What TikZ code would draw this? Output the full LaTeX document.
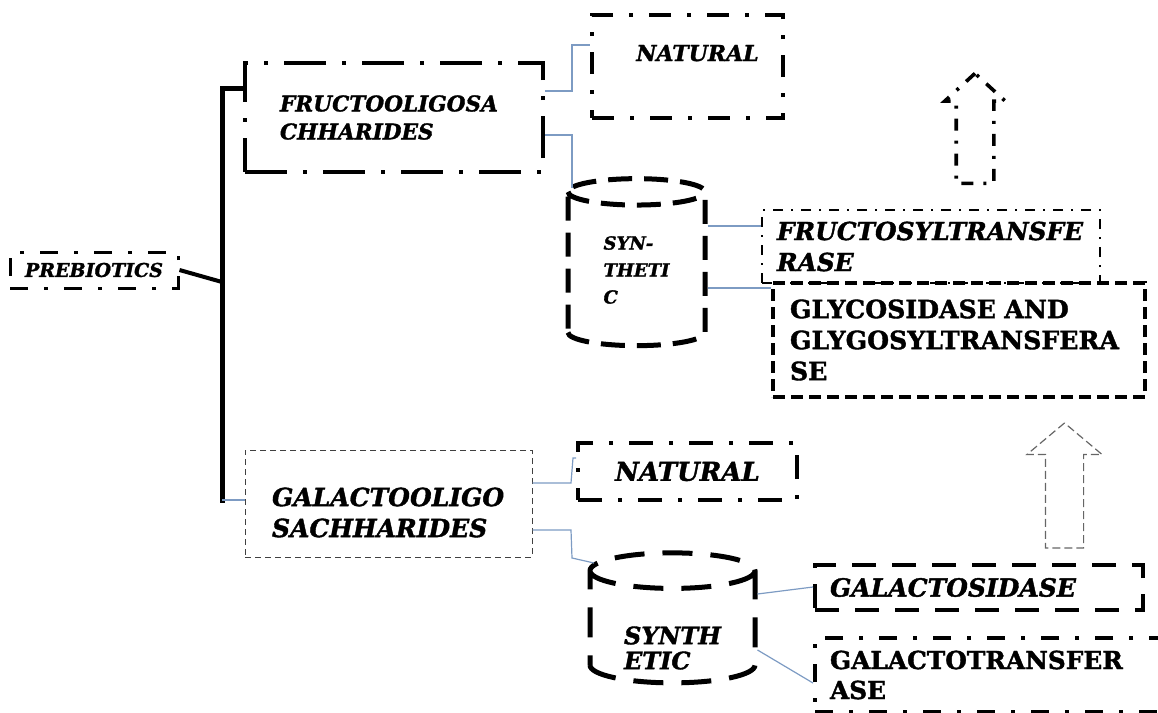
\documentclass[tikz,border=0pt]{standalone}
\usepackage{fontspec}
\setmainfont{DejaVu Serif}[BoldFeatures={FakeBold=1.5}, BoldItalicFeatures={FakeBold=1.5}]
\usetikzlibrary{shapes.geometric, shapes.arrows, calc}
\newcommand{\fs}[2]{\fontsize{#1}{#2}\selectfont}
\definecolor{linkblue}{RGB}{125,155,195}
\tikzset{
every node/.append style={inner xsep=0pt, inner ysep=2pt},
box/.style={draw, align=left, line width=2pt},
dd/.style={dash pattern=on #1 off 8pt on 2pt off 8pt},
cyl/.style={cylinder, shape border rotate=90, draw, line width=2.5pt, align=left, aspect=0.4},
link/.style={draw=linkblue, line width=0.6pt},
spine/.style={line width=2.5pt, line cap=rect},
bigarrow/.style={single arrow, draw, rotate=90, single arrow head indent=0pt},
}
\begin{document}
\begin{tikzpicture}[x=0.5pt, y=-0.5pt]
\useasboundingbox (0,0) rectangle (1158,713);

% left side
\node[box, line width=1.5pt, dd=9pt, minimum width=84pt, minimum height=18pt, font=\bfseries\itshape\fs{9.5}{11}] (pre) at (94,270) {PREBIOTICS};
\node[box, dd=21pt, minimum width=149pt, minimum height=54.5pt, text width=114pt, font=\bfseries\itshape\fs{10.8}{14}] (fos) at (394,117.5) {FRUCTOOLIGOSA\\CHHARIDES};
\node[box, draw=black!75, line width=0.5pt, densely dashed, minimum width=143.5pt, minimum height=53.5pt,
  label={[text width=116.5pt, align=left, yshift=-4.5pt, font=\bfseries\itshape\fs{12.5}{15.5}]center:GALACTOOLIGO\\SACHHARIDES}] (gos) at (388.5,503.5) {};

% natural sources
\node[box, dd=11pt, minimum width=95.5pt, minimum height=51.5pt, text depth=13.5pt, font=\bfseries\itshape\fs{11}{13}] (nat1) at (687.5,66.5) {\hspace*{10pt}NATURAL};
\node[box, dd=12pt, minimum width=109.5pt, minimum height=28.5pt, font=\bfseries\itshape\fs{13}{15}] (nat2) at (687.5,471.5) {NATURAL};

% synthetic routes
\node[cyl, dash pattern=on 12pt off 6pt, minimum width=68.5pt, minimum height=83.5pt, font=\bfseries\itshape\fs{9}{13.5}] (syn1) at (636.5,270) {SYN-\\THETI\\C};
\node[cyl, dash pattern=on 15pt off 9pt, minimum width=82.5pt, minimum height=65pt, font=\bfseries\itshape\fs{11}{12.5},
  label={[align=left, yshift=-10pt, font=\bfseries\itshape\fs{12}{12.5}]center:SYNTH\\ETIC}] (syn2) at (672.5,628) {\phantom{SYNTH}\\\phantom{ETIC}};

% enzymes
\node[box, line width=1.2pt, dash pattern=on 5pt off 4pt on 1pt off 4pt, minimum width=169pt, minimum height=36.5pt, text width=154pt, font=\bfseries\itshape\fs{12.4}{15.5}] (fru) at (931,246.5) {FRUCTOSYLTRANSFE\\RASE};
\node[box, line width=1.6pt, dash pattern=on 6pt off 3pt, minimum width=186pt, minimum height=57pt, text width=169pt, font=\bfseries\fs{12.6}{15.5}] (gly) at (959,340) {GLYCOSIDASE AND\\GLYGOSYLTRANSFERA\\SE};
\node[box, dash pattern=on 12pt off 8pt, minimum width=164pt, minimum height=22.5pt, text width=149pt, font=\bfseries\itshape\fs{12.5}{13}] (gsd) at (979,587.5) {GALACTOSIDASE};
\node[box, dd=9pt, minimum width=177.5pt, minimum height=37pt, text width=162.5pt, font=\bfseries\fs{12.4}{15}] (gtr) at (992.5,675) {GALACTOTRANSFER\\ASE};

% block arrows
\node[bigarrow, line width=1.8pt, dash pattern=on 6pt off 5pt on 1.5pt off 5pt, minimum height=55pt, inner ysep=8.5pt, single arrow head extend=5.75pt, single arrow tip angle=95] (up1) at (975,137) {};
\node[bigarrow, draw=black!60, line width=0.6pt, dash pattern=on 4pt off 2pt, minimum height=62.5pt, inner ysep=9.25pt, single arrow head extend=9.25pt, single arrow tip angle=100] (up2) at (1064.5,493.5) {};

% bracket
\coordinate (top) at (222,88);
\coordinate (bot) at (222,500);
\coordinate (joint) at (222,282);
\draw[spine] (fos.west |- top) -- (top) -- (bot);
\draw[line width=2pt] (pre.east) -- (joint);
\draw[link] (bot) -- (gos.west |- bot);

% connectors
\draw[link] (fos.east |- 0,91) -| (572,45) -- (nat1.west |- 0,45);
\draw[link] (fos.east |- 0,135) -| (572,188);
\draw[link] (syn1.east |- 0,226) -- (fru.west |- 0,226);
\draw[link] (syn1.east |- 0,288) -- (gly.west |- 0,288);
\draw[link] (gos.east |- 0,483) -- (571,483) -- (573,458) -- (nat2.west |- 0,458);
\draw[link] (gos.east |- 0,530) -- (571,530) -- (572,558) -- (594,563);
\draw[link] (syn2.east |- 0,594) -- (gsd.west |- 0,587);
\draw[link] (syn2.east |- 0,650) -- (gtr.west |- 0,683);
\end{tikzpicture}
\end{document}
